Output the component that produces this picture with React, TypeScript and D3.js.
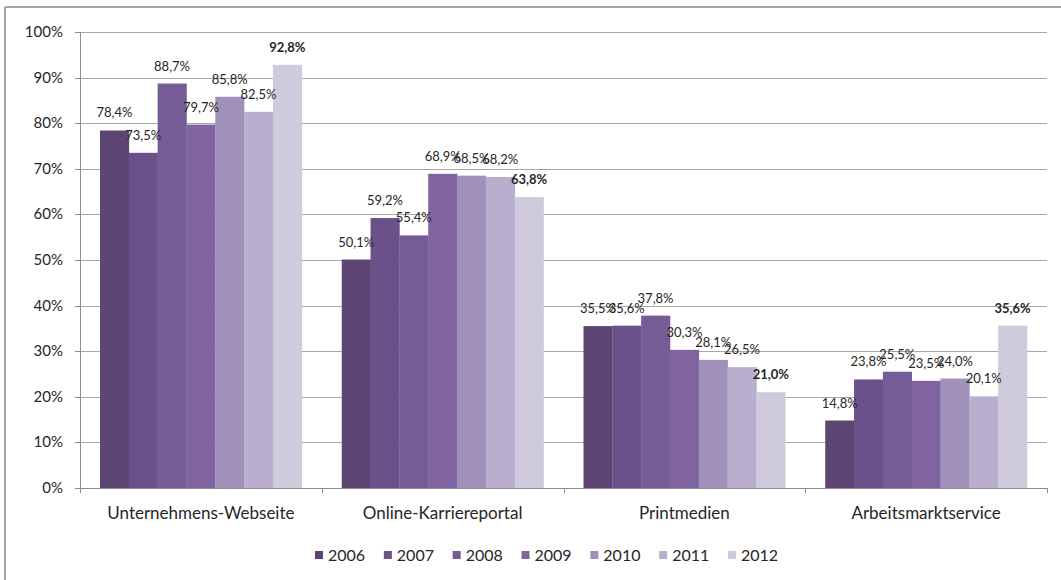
import React from "react";
import * as d3 from "d3";

const categories = ["Unternehmens-Webseite", "Online-Karriereportal", "Printmedien", "Arbeitsmarktservice"];
const years = ["2006", "2007", "2008", "2009", "2010", "2011", "2012"];
const values2006 = [78.4, 50.1, 35.5, 14.8];
const values2007 = [73.5, 59.2, 35.6, 23.8];
const values2008 = [88.7, 55.4, 37.8, 25.5];
const values2009 = [79.7, 68.9, 30.3, 23.5];
const values2010 = [85.8, 68.5, 28.1, 24.0];
const values2011 = [82.5, 68.2, 26.5, 20.1];
const values2012 = [92.8, 63.8, 21.0, 35.6];
const series = [values2006, values2007, values2008, values2009, values2010, values2011, values2012];
const yTicks = [0, 10, 20, 30, 40, 50, 60, 70, 80, 90, 100];
const colors = ["#5c4572", "#6b5189", "#765c96", "#8064a2", "#a091bb", "#b9aecd", "#d0cadd"];

const W = 1061;
const H = 580;
const left = 80;
const right = 1047;
const top = 32;
const bottom = 488;
const FONT = "Lato, 'Open Sans', sans-serif";

export default function App() {
  const x0 = d3.scaleBand<string>().domain(categories).range([left, right]).paddingInner(0).paddingOuter(0);
  const gap = 40;
  const x1 = d3
    .scaleBand<string>()
    .domain(years)
    .range([gap / 2, x0.bandwidth() - gap / 2])
    .padding(0);
  const y = d3.scaleLinear().domain([0, 100]).range([bottom, top]);
  const fmt = (v: number) => v.toFixed(1).replace(".", ",") + "%";

  const legendX = d3.scalePoint<string>().domain(years).range([315, 728]);

  return (
    <div style={{ position: "absolute", left: 0, top: 0 }}>
      <svg width={W} height={H} style={{ display: "block", background: "#fff" }} fontFamily={FONT}>
        {/* frame */}
        <line x1={5} x2={W} y1={7} y2={7} stroke="#a6a6a6" strokeWidth={2} />
        <line x1={5} x2={5} y1={7} y2={H} stroke="#a6a6a6" strokeWidth={2} />
        {/* gridlines */}
        {yTicks.map((t) => (
          <g key={t}>
            {t > 0 && (
              <line x1={left} x2={right} y1={Math.round(y(t)) + 0.5} y2={Math.round(y(t)) + 0.5} stroke="#a8a8a8" strokeWidth={1} />
            )}
            <line x1={left - 5} x2={left} y1={Math.round(y(t)) + 0.5} y2={Math.round(y(t)) + 0.5} stroke="#8c8c8c" />
            <text x={63} y={y(t) + 5} textAnchor="end" fontSize={15} fill="#262626">
              {t}%
            </text>
          </g>
        ))}
        {/* bars */}
        {categories.map((c, ci) => (
          <g key={c}>
            {series.map((s, si) => (
              <rect
                key={si}
                x={(x0(c) as number) + (x1(years[si]) as number)}
                y={y(s[ci])}
                width={x1.bandwidth() + 0.3}
                height={bottom - y(s[ci])}
                fill={colors[si]}
              />
            ))}
          </g>
        ))}
        {/* axes */}
        <line x1={left + 0.5} x2={left + 0.5} y1={top} y2={bottom + 5} stroke="#8c8c8c" />
        <line x1={left} x2={right} y1={bottom + 0.5} y2={bottom + 0.5} stroke="#8c8c8c" />
        {categories.map((c, ci) => (
          <line
            key={"t" + ci}
            x1={Math.round((x0(c) as number) + x0.bandwidth()) + 0.5}
            x2={Math.round((x0(c) as number) + x0.bandwidth()) + 0.5}
            y1={bottom}
            y2={bottom + 5}
            stroke="#8c8c8c"
          />
        ))}
        {/* data labels */}
        {categories.map((c, ci) => (
          <g key={"l" + c}>
            {series.map((s, si) => (
              <text
                key={si}
                x={(x0(c) as number) + (x1(years[si]) as number) + x1.bandwidth() / 2}
                y={y(s[ci]) - 13}
                textAnchor="middle"
                fontSize={13}
                fontWeight={si === 6 ? "bold" : "normal"}
                fill="#262626"
              >
                {fmt(s[ci])}
              </text>
            ))}
          </g>
        ))}
        {/* category labels */}
        {categories.map((c) => (
          <text key={"c" + c} x={(x0(c) as number) + x0.bandwidth() / 2} y={519} textAnchor="middle" fontSize={17} fill="#262626">
            {c}
          </text>
        ))}
        {/* legend */}
        {years.map((yr, i) => (
          <g key={"lg" + yr}>
            <rect x={legendX(yr) as number} y={551} width={8} height={8} fill={colors[i]} />
            <text x={(legendX(yr) as number) + 13} y={561} fontSize={16} fill="#262626">
              {yr}
            </text>
          </g>
        ))}
      </svg>
    </div>
  );
}
